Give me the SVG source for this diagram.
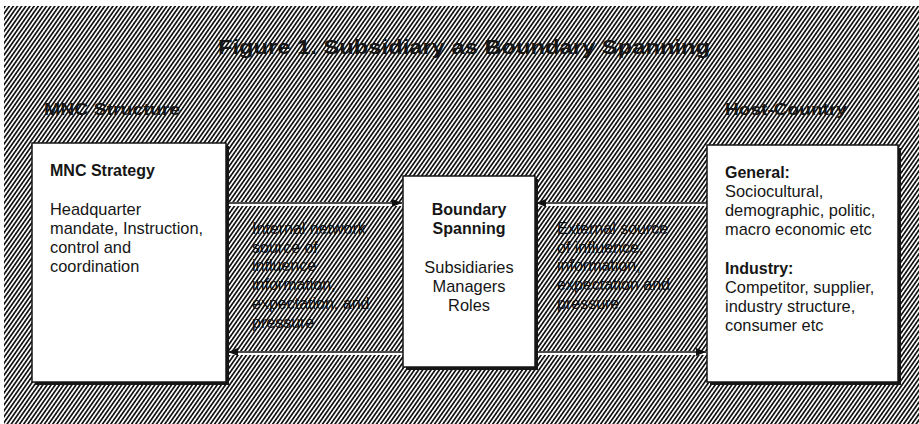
<svg xmlns="http://www.w3.org/2000/svg" width="919" height="424" viewBox="0 0 919 424">
<defs>
<pattern id="hatch" width="3.4" height="3.4" patternUnits="userSpaceOnUse" patternTransform="rotate(35)">
<rect x="0" y="0" width="3.4" height="3.4" fill="#fafafa"/>
<rect x="0" y="0" width="1.7" height="3.4" fill="#151515"/>
</pattern>
<marker id="ah" viewBox="0 0 10 8" refX="10" refY="4" markerWidth="11" markerHeight="8" markerUnits="userSpaceOnUse" orient="auto">
<path d="M0,0 L10,4 L0,8 Z" fill="#111"/>
</marker>
<style>
text{font-family:"Liberation Sans",Arial,sans-serif;fill:#161616}
.t{font-size:20px;font-weight:bold}
.h{font-size:17px;font-weight:bold}
.b{font-size:16px;font-weight:bold}
.r{font-size:16.4px}
.l{font-size:16px;fill:#0c0c0c}
.box{fill:#fff;stroke:#161616;stroke-width:1.5}
.sh{fill:#161616}
.c{stroke:#111;stroke-width:1.5;fill:none}
.cw{stroke:#fff;stroke-width:4;fill:none}
</style>
</defs>
<rect width="919" height="424" fill="#fff"/>
<rect x="4" y="6" width="915" height="418" fill="url(#hatch)"/>
<text class="t" x="218" y="54" textLength="492" lengthAdjust="spacingAndGlyphs">Figure 1. Subsidiary as Boundary Spanning</text>
<text class="h" x="44" y="115" textLength="136" lengthAdjust="spacingAndGlyphs">MNC Structure</text>
<text class="h" x="725" y="115" textLength="122" lengthAdjust="spacingAndGlyphs">Host-Country</text>

<g id="connectors">
<line class="cw" x1="226" y1="204" x2="403" y2="204"/>
<line class="cw" x1="535" y1="204" x2="707" y2="204"/>
<line class="cw" x1="226" y1="353" x2="403" y2="353"/>
<line class="cw" x1="535" y1="353" x2="707" y2="353"/>
<line class="c" x1="226" y1="203" x2="402" y2="203" marker-end="url(#ah)"/>
<line class="c" x1="707" y1="203" x2="536" y2="203" marker-end="url(#ah)"/>
<line class="c" x1="403" y1="352" x2="228" y2="352" marker-end="url(#ah)"/>
<line class="c" x1="535" y1="352" x2="706" y2="352" marker-end="url(#ah)"/>
<g id="label-internal">
<text class="l" x="252" y="234">Internal network</text>
<text class="l" x="252" y="253">source of</text>
<text class="l" x="252" y="271">influence</text>
<text class="l" x="252" y="290">information,</text>
<text class="l" x="252" y="309">expectation, and</text>
<text class="l" x="252" y="328">pressure</text>
</g>
<g id="label-external">
<text class="l" x="557" y="234">External source</text>
<text class="l" x="557" y="253">of influence,</text>
<text class="l" x="557" y="271">information,</text>
<text class="l" x="557" y="290">expectation and</text>
<text class="l" x="557" y="309">pressure</text>
</g>
</g>

<g id="mnc-strategy">
<rect class="sh" x="35" y="146" width="194" height="239"/>
<rect class="box" x="32" y="143" width="194" height="239"/>
<text class="b" x="50" y="176">MNC Strategy</text>
<text class="r" x="50" y="215">Headquarter</text>
<text class="r" x="50" y="234">mandate, Instruction,</text>
<text class="r" x="50" y="253">control and</text>
<text class="r" x="50" y="272">coordination</text>
</g>

<g id="boundary-spanning">
<rect class="sh" x="406" y="179" width="132" height="191"/>
<rect class="box" x="403" y="176" width="132" height="191"/>
<text class="b" x="469" y="215" text-anchor="middle">Boundary</text>
<text class="b" x="469" y="234" text-anchor="middle">Spanning</text>
<text class="r" x="469" y="273" text-anchor="middle">Subsidiaries</text>
<text class="r" x="469" y="292" text-anchor="middle">Managers</text>
<text class="r" x="469" y="311" text-anchor="middle">Roles</text>
</g>

<g id="host-country">
<rect class="sh" x="710" y="148" width="191" height="237"/>
<rect class="box" x="707" y="145" width="191" height="237"/>
<text class="b" x="725" y="178">General:</text>
<text class="r" x="725" y="197">Sociocultural,</text>
<text class="r" x="725" y="216">demographic, politic,</text>
<text class="r" x="725" y="235">macro economic etc</text>
<text class="b" x="725" y="274">Industry:</text>
<text class="r" x="725" y="293">Competitor, supplier,</text>
<text class="r" x="725" y="312">industry structure,</text>
<text class="r" x="725" y="331">consumer etc</text>
</g>
</svg>
